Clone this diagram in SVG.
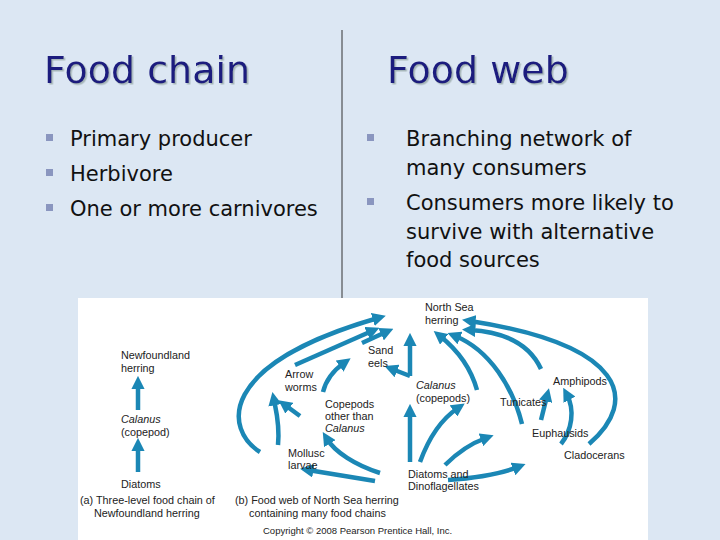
<svg xmlns="http://www.w3.org/2000/svg" width="720" height="540" viewBox="0 0 720 540">
<defs>
<marker id="ah" markerWidth="3" markerHeight="3" refX="1.2" refY="1.5" orient="auto" markerUnits="strokeWidth"><path d="M0,0 L3,1.5 L0,3 z" fill="#1b87b5"/></marker>
<filter id="sh"><feDropShadow dx="1.5" dy="1.5" stdDeviation="0.5" flood-color="#9aa" flood-opacity="0.8"/></filter>
</defs>
<style>
.t{font-family:"Liberation Sans",Arial,sans-serif;font-size:10.8px;fill:#222}
.i{font-style:italic}
.h{font-family:"DejaVu Sans",Verdana,sans-serif;font-size:38px;fill:#1a1a7e;filter:url(#sh)}
.b{font-family:"DejaVu Sans",Verdana,sans-serif;font-size:21px;fill:#111}
.bl{fill:#8a96bf}
.a{fill:none;stroke:#1b87b5;stroke-width:4.5;marker-end:url(#ah)}
</style>
<rect width="720" height="540" fill="#dce7f3"/>
<line x1="342" y1="30" x2="342" y2="300" stroke="#333" stroke-width="1"/>
<g id="left-title"><text class="h" x="44" y="83">Food chain</text></g>
<g id="right-title"><text class="h" x="387" y="83">Food web</text></g>
<g id="left-bullets">
<rect class="bl" x="46" y="134" width="7" height="7"/><text class="b" x="70" y="146">Primary producer</text>
<rect class="bl" x="46" y="169" width="7" height="7"/><text class="b" x="70" y="181">Herbivore</text>
<rect class="bl" x="46" y="204" width="7" height="7"/><text class="b" x="70" y="216">One or more carnivores</text>
</g>
<g id="right-bullets">
<rect class="bl" x="367" y="134" width="7" height="7"/><text class="b" x="406" y="146">Branching network of</text><text class="b" x="406" y="175">many consumers</text>
<rect class="bl" x="367" y="198" width="7" height="7"/><text class="b" x="406" y="210">Consumers more likely to</text><text class="b" x="406" y="239">survive with alternative</text><text class="b" x="406" y="267">food sources</text>
</g>
<rect x="78" y="298" width="570" height="242" fill="#fff"/>
<g id="connectors">
<path class="a" d="M138,410 L138,384"/>
<path class="a" d="M138,472 L138,446"/>
<path class="a" d="M260,452 C225,430 215,365 378,318"/>
<path class="a" d="M278,445 C280,425 276,410 274,400"/>
<path class="a" d="M300,416 L285,405"/>
<path class="a" d="M323,392 C326,380 334,370 344,363"/>
<path class="a" d="M295,365 L372,331"/>
<path class="a" d="M362,343 L386,332"/>
<path class="a" d="M410,376 L392,369"/>
<path class="a" d="M410,376 L410,341"/>
<path class="a" d="M410,462 L410,412"/>
<path class="a" d="M375,481 L308,470"/>
<path class="a" d="M380,473 C355,465 335,452 327,439"/>
<path class="a" d="M420,462 C428,440 440,420 458,408"/>
<path class="a" d="M445,465 C458,452 472,443 486,438"/>
<path class="a" d="M448,480 C475,478 500,474 518,467"/>
<path class="a" d="M477,390 C470,365 455,348 440,336"/>
<path class="a" d="M522,424 C513,388 490,350 455,336"/>
<path class="a" d="M541,420 L547,396"/>
<path class="a" d="M561,444 C572,430 575,410 567,395"/>
<path class="a" d="M541,369 C530,345 505,332 470,330"/>
<path class="a" d="M589,444 C640,400 625,345 470,321"/>
</g>
<g id="n-newfoundland"><text class="t" x="121" y="359">Newfoundland</text><text class="t" x="121" y="372">herring</text></g>
<g id="n-calanus-a"><text class="t i" x="121" y="423">Calanus</text><text class="t" x="121" y="436">(copepod)</text></g>
<g id="n-diatoms-a"><text class="t" x="121" y="488">Diatoms</text></g>
<g id="cap-a"><text class="t" x="80" y="504">(a) Three-level food chain of</text><text class="t" x="94" y="517">Newfoundland herring</text></g>
<g id="n-herring"><text class="t" x="425" y="311">North Sea</text><text class="t" x="425" y="324">herring</text></g>
<g id="n-sandeels"><text class="t" x="368" y="354">Sand</text><text class="t" x="368" y="367">eels</text></g>
<g id="n-arrowworms"><text class="t" x="285" y="378">Arrow</text><text class="t" x="285" y="391">worms</text></g>
<g id="n-calanus-b"><text class="t i" x="416" y="389">Calanus</text><text class="t" x="416" y="402">(copepods)</text></g>
<g id="n-copepods"><text class="t" x="325" y="408">Copepods</text><text class="t" x="325" y="420">other than</text><text class="t i" x="325" y="432">Calanus</text></g>
<g id="n-tunicates"><text class="t" x="500" y="406">Tunicates</text></g>
<g id="n-amphipods"><text class="t" x="553" y="385">Amphipods</text></g>
<g id="n-euphausids"><text class="t" x="532" y="437">Euphausids</text></g>
<g id="n-cladocerans"><text class="t" x="564" y="459">Cladocerans</text></g>
<g id="n-mollusc"><text class="t" x="288" y="457">Mollusc</text><text class="t" x="288" y="469">larvae</text></g>
<g id="n-diatoms-b"><text class="t" x="408" y="478">Diatoms and</text><text class="t" x="408" y="490">Dinoflagellates</text></g>
<g id="cap-b"><text class="t" x="235" y="504">(b) Food web of North Sea herring</text><text class="t" x="249" y="517">containing many food chains</text></g>
<g id="copyright"><text class="t" x="263" y="534" style="font-size:9.5px">Copyright © 2008 Pearson Prentice Hall, Inc.</text></g>
</svg>
